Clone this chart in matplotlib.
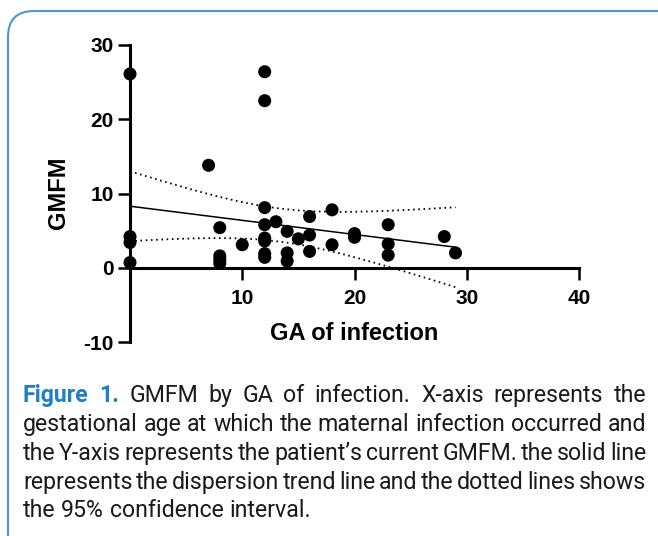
import numpy as np
import matplotlib
matplotlib.use("Agg")
import matplotlib.pyplot as plt
from matplotlib.patches import FancyBboxPatch
from matplotlib.transforms import IdentityTransform

plt.rcParams["axes.unicode_minus"] = False

# ---------------- data ----------------
ga_weeks = [0, 0, 0, 0, 7, 8, 8, 8, 8, 10,
            12, 12, 12, 12, 12, 12, 12, 12, 13,
            14, 14, 14, 15, 16, 16, 16, 18, 18,
            20, 20, 23, 23, 23, 28, 29]
gmfm = [26.1, 4.2, 3.4, 0.7, 13.8, 5.4, 1.6, 1.1, 0.6, 3.1,
        26.4, 22.5, 8.1, 5.8, 4.0, 3.6, 1.9, 1.4, 6.2,
        4.9, 2.0, 0.9, 3.9, 6.9, 4.4, 2.2, 7.8, 3.1,
        4.6, 4.1, 5.8, 3.2, 1.7, 4.2, 2.0]
x_ticks = [10, 20, 30, 40]
y_ticks = [-10, 0, 10, 20, 30]
T_CRIT = 2.035  # t(0.975, df=n-2)

x_label = "GA of infection"
y_label = "GMFM"
caption_lines = [
    "Figure 1. GMFM by GA of infection. X-axis represents the",
    "gestational age at which the maternal infection occurred and",
    "the Y-axis represents the patient\u2019s current GMFM. the solid line",
    "represents the dispersion trend line and the dotted lines shows",
    "the 95% confidence interval.",
]

# ---------------- figure ----------------
W, H = 658, 536
fig = plt.figure(figsize=(W / 100, H / 100), dpi=100)
fig.patch.set_facecolor("white")

# rounded blue frame (extends beyond right/bottom edges)
frame = FancyBboxPatch((8, -40), 700, 565, boxstyle="round,pad=0,rounding_size=26",
                       transform=IdentityTransform(), facecolor="none",
                       edgecolor="#4f97d3", linewidth=1.5)
fig.add_artist(frame)

ax = fig.add_axes([130 / W, 1 - 342 / H, 449 / W, 297 / H])
ax.set_xlim(0, 40)
ax.set_ylim(-10, 30)

x = np.array(ga_weeks, dtype=float)
y = np.array(gmfm, dtype=float)
ax.scatter(x, y, s=88, color="black", edgecolors="none", zorder=5, clip_on=False)

# linear regression with 95% CI of the mean
slope, intercept = np.polyfit(x, y, 1)
n = len(x)
resid = y - (slope * x + intercept)
s = np.sqrt(np.sum(resid ** 2) / (n - 2))
xm = x.mean()
sxx = np.sum((x - xm) ** 2)
xs = np.linspace(x.min(), x.max(), 200)
ys = slope * xs + intercept
half = T_CRIT * s * np.sqrt(1 / n + (xs - xm) ** 2 / sxx)
ax.plot(xs, ys, color="black", lw=1.1, zorder=4)
ax.plot(xs, ys + half, color="black", lw=1.3, ls=(0, (0.9, 2.0)), zorder=4)
ax.plot(xs, ys - half, color="black", lw=1.3, ls=(0, (0.9, 2.0)), zorder=4)

# axes styling
for side in ("top", "right"):
    ax.spines[side].set_visible(False)
ax.spines["bottom"].set_position(("data", 0))
ax.spines["left"].set_linewidth(2.2)
ax.spines["bottom"].set_linewidth(2.2)
ax.set_xticks(x_ticks)
ax.set_yticks(y_ticks)
ax.tick_params(axis="both", direction="out", length=8.6, width=1.8, labelsize=15)
ax.tick_params(axis="x", pad=7)
ax.tick_params(axis="y", pad=3)
for lab in ax.get_xticklabels() + ax.get_yticklabels():
    lab.set_fontfamily(["Liberation Sans", "DejaVu Sans"])
    lab.set_fontweight("bold")

ax.set_xlabel(x_label, fontsize=17, fontweight="bold", family=["Liberation Sans", "DejaVu Sans"])
ax.set_ylabel(y_label, fontsize=17, fontweight="bold", family=["Liberation Sans", "DejaVu Sans"])
ax.xaxis.set_label_coords((354 - 130) / 449, (342 - 334) / 297)
ax.xaxis.label.set_va("center")
ax.yaxis.set_label_coords((58 - 130) / 449, (342 - 193) / 297)
ax.yaxis.label.set_va("center")
ax.patch.set_alpha(0)

# ---------------- justified caption ----------------
cap_family = ["Roboto", "DejaVu Sans"]
renderer = fig.canvas.get_renderer()


def measure(txt, size, weight="normal"):
    t = fig.text(0, 0, txt, fontsize=size, family=cap_family, weight=weight,
                 transform=IdentityTransform())
    w = t.get_window_extent(renderer).width
    t.remove()
    return w


x_left, x_right = 23, 646
target_last = 311 - x_left
base = 10
w_last = measure(caption_lines[-1], base)
cap_size = base * target_last / w_last
cap_size = min(cap_size, 17)
baselines = [402, 431, 460, 489, 517]
blue = "#1f80c6"
text_color = "#1a1a1a"

for i, line in enumerate(caption_lines):
    words = line.split(" ")
    yb = H - baselines[i]
    styles = []
    for j, wd in enumerate(words):
        if i == 0 and j < 2:
            styles.append((blue, "bold"))
        else:
            styles.append((text_color, "normal"))
    widths = [measure(wd, cap_size, st[1]) for wd, st in zip(words, styles)]
    if i < len(caption_lines) - 1:
        gap = (x_right - x_left - sum(widths)) / (len(words) - 1)
    else:
        gap = measure("a b", cap_size) - measure("ab", cap_size)
    xp = x_left
    for wd, wdt, st in zip(words, widths, styles):
        fig.text(xp, yb, wd, fontsize=cap_size, family=cap_family, weight=st[1],
                 color=st[0], ha="left", va="baseline", transform=IdentityTransform())
        xp += wdt + gap

fig.savefig("out.png", dpi=100, facecolor="white")
